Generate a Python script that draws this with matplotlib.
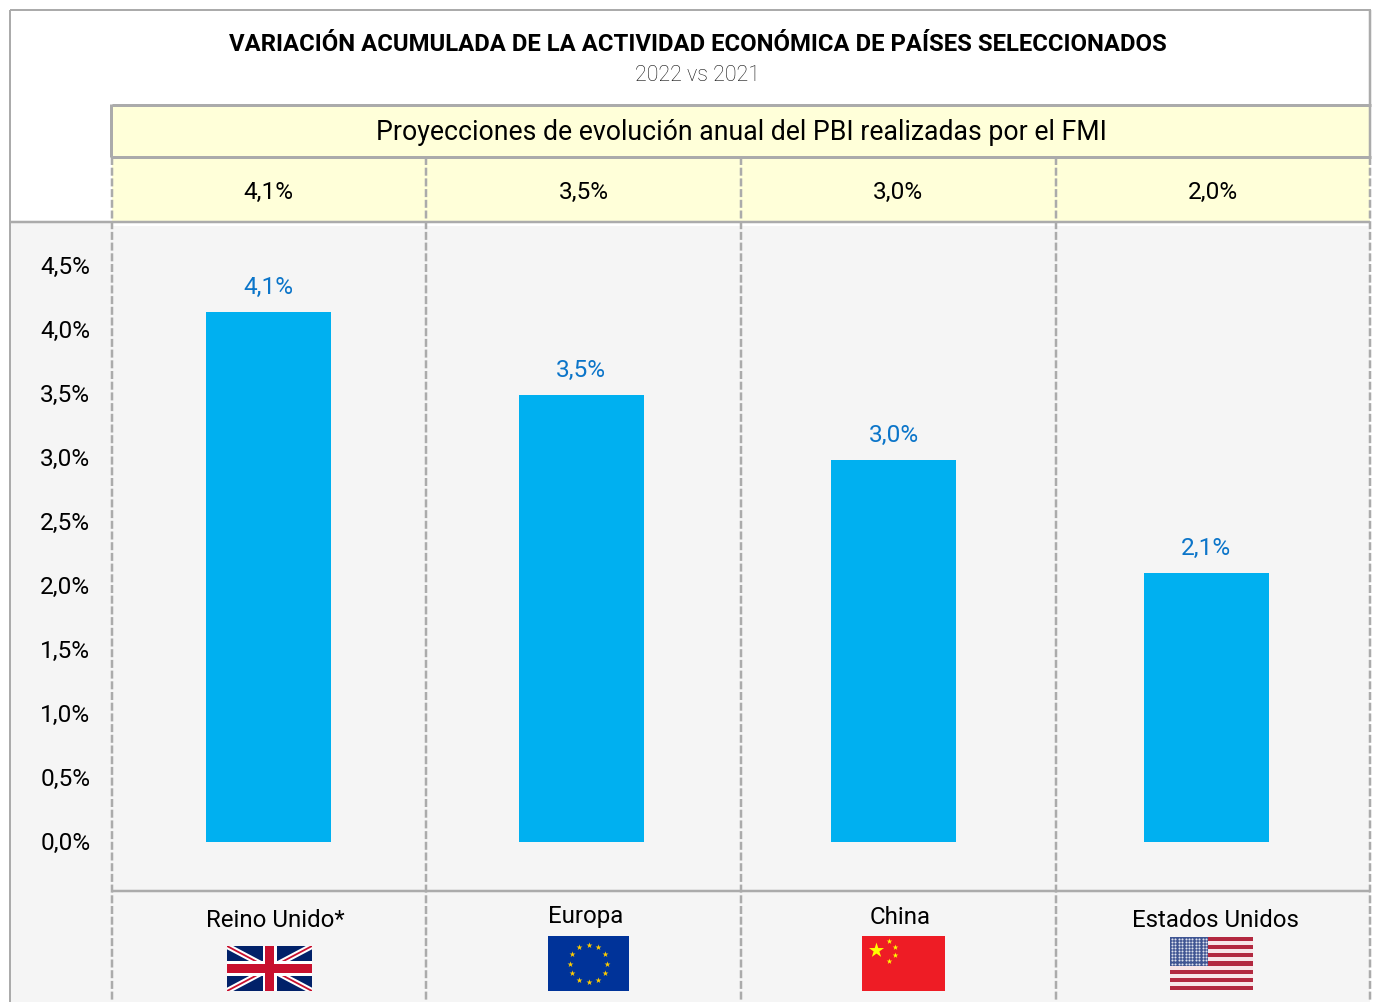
import matplotlib
matplotlib.use("Agg")
import matplotlib.pyplot as plt
from matplotlib.patches import Rectangle
from matplotlib.transforms import ScaledTranslation
import numpy as np

# data
paises = ["Reino Unido*", "Europa", "China", "Estados Unidos"]
variacion = [4.14, 3.49, 2.985, 2.1]
etiquetas = ["4,1%", "3,5%", "3,0%", "2,1%"]
proyecciones = ["4,1%", "3,5%", "3,0%", "2,0%"]
y_ticks = [0, 0.5, 1, 1.5, 2, 2.5, 3, 3.5, 4, 4.5]
y_labels = ["0,0%", "0,5%", "1,0%", "1,5%", "2,0%", "2,5%", "3,0%", "3,5%", "4,0%", "4,5%"]

W, H = 1373, 1002
GRIS = "#ababab"
AMARILLO = "#ffffd9"
FONDO = "#f5f5f5"
CELESTE = "#00b0f0"
AZUL_TXT = "#0b75c9"

plt.rcParams["font.family"] = ["Roboto", "DejaVu Sans"]
fig = plt.figure(figsize=(W / 100, H / 100), dpi=100, facecolor="white")

# capa de fondo en pixeles
bg = fig.add_axes([0, 0, 1, 1])
bg.set_xlim(0, W)
bg.set_ylim(H, 0)
bg.axis("off")

def rect(x0, y0, x1, y1, color, z=1):
    bg.add_patch(Rectangle((x0, y0), x1 - x0, y1 - y0, facecolor=color, edgecolor="none", zorder=z))

def linea(xs, ys, lw=2, ls="-", z=3):
    px = lw * 0.72
    if ls == "-":
        bg.plot(xs, ys, color=GRIS, lw=px, zorder=z, solid_capstyle="butt")
    else:
        bg.plot(xs, ys, color=GRIS, lw=px, zorder=z, linestyle=(0, (3.2, 1.08)), dash_capstyle="butt")

rect(10, 222, 1370, H, FONDO)
rect(112, 222, 1370, 226, "white", 1.5)
rect(112, 105, 1370, 221, AMARILLO, 2)

# marco
linea([10, 10], [10, H], 2)
linea([10, 1371], [10, 10], 2)
linea([1370, 1370], [10, 157], 2.5)
linea([10, 1370], [221.5, 221.5], 2.5)
linea([112, 1371], [105, 105], 3)
linea([111, 111], [104, 157], 3)
linea([112, 1371], [156.5, 156.5], 3)
linea([112, 1370], [891, 891], 2.5)
for x in [112, 426, 741, 1056, 1370]:
    linea([x, x], [157, H], 2.5, "--")

# textos de encabezado
bg.text(698, 44, "VARIACIÓN ACUMULADA DE LA ACTIVIDAD ECONÓMICA DE PAÍSES SELECCIONADOS",
        ha="center", va="center", fontsize=17.2, fontweight="bold", color="black", zorder=5)
bg.text(698, 75, "2022 vs 2021", ha="center", va="center", fontsize=15.5, color="#111111",
        fontweight="light", zorder=5)
bg.text(741, 132, "Proyecciones de evolución anual del PBI realizadas por el FMI",
        ha="center", va="center", fontsize=19.2, color="black", zorder=5)
for x, t in zip([268.5, 584, 898, 1213], proyecciones):
    bg.text(x, 192, t, ha="center", va="center", fontsize=17.6, color="black", zorder=5)
for x, y, t in zip([275, 586, 900.5, 1215], [920.5, 916.5, 917.5, 920.5], paises):
    bg.text(x, y, t, ha="center", va="center", fontsize=17.3, color="black", zorder=5)

# banderas
def bandera_uk(x0, y0, x1, y1):
    rect(x0, y0, x1, y1, "#012169", 4)
    for a, b in [((x0, y0), (x1, y1)), ((x0, y1), (x1, y0))]:
        bg.plot([a[0], b[0]], [a[1], b[1]], color="white", lw=4.2, zorder=4.1, solid_capstyle="butt")
        bg.plot([a[0], b[0]], [a[1], b[1]], color="#c8102e", lw=1.3, zorder=4.2, solid_capstyle="butt")
    xc, yc = (x0 + x1) / 2, (y0 + y1) / 2
    rect(xc - 7, y0, xc + 7, y1, "white", 4.3)
    rect(x0, yc - 7.5, x1, yc + 7.5, "white", 4.3)
    rect(xc - 4.5, y0, xc + 4.5, y1, "#c8102e", 4.4)
    rect(x0, yc - 4.8, x1, yc + 4.8, "#c8102e", 4.4)
    # recorta las diagonales que sobresalen
    rect(x0 - 6, y0 - 6, x0, y1 + 6, FONDO, 4.5)
    rect(x1, y0 - 6, x1 + 6, y1 + 6, FONDO, 4.5)
    rect(x0 - 6, y0 - 6, x1 + 6, y0, FONDO, 4.5)
    rect(x0 - 6, y1, x1 + 6, y1 + 6, FONDO, 4.5)

def bandera_eu(x0, y0, x1, y1):
    rect(x0, y0, x1, y1, "#003399", 4)
    xc, yc = (x0 + x1) / 2, (y0 + y1) / 2
    ang = np.arange(12) * np.pi / 6
    bg.scatter(xc + 18.5 * np.cos(ang), yc + 18.5 * np.sin(ang), marker="*", s=20,
               color="#ffcc00", linewidths=0, zorder=5)

def bandera_china(x0, y0, x1, y1):
    rect(x0, y0, x1, y1, "#ee1c25", 4)
    bg.scatter([x0 + 14], [y0 + 13.7], marker="*", s=130, color="#ffff00", linewidths=0, zorder=5)
    bg.scatter([x0 + 27, x0 + 33, x0 + 33, x0 + 27], [y0 + 5.3, y0 + 11, y0 + 19.3, y0 + 24.7],
               marker="*", s=18, color="#ffff00", linewidths=0, zorder=5)

def bandera_usa(x0, y0, x1, y1):
    rect(x0, y0, x1, y1, "#f7e6e8", 4)
    h = (y1 - y0) / 13
    for i in range(0, 13, 2):
        rect(x0, y0 + i * h, x1, y0 + (i + 1) * h, "#b2283f", 4.1)
    rect(x0, y0, x0 + 38, y0 + 7 * h, "#3f5592", 4.2)
    xs, ys = np.meshgrid(np.linspace(x0 + 2, x0 + 36, 11), np.linspace(y0 + 2, y0 + 7 * h - 2, 9))
    bg.scatter(xs.ravel(), ys.ravel(), s=2.2, color="#dfe3ee", linewidths=0, zorder=4.3)

bandera_uk(227, 946, 312, 991)
bandera_eu(548, 936, 629, 991)
bandera_china(862, 936, 945, 991)
bandera_usa(1170, 937, 1253, 990)

# grafico de barras: y=0 en 841.5 px, y=4.5 en 266 px
ax = fig.add_axes([112.5 / W, 1 - 841.5 / H, 1250 / W, 575.5 / H], facecolor="none")
x = np.arange(len(paises))
barras = ax.bar(x, variacion, width=0.4, color=CELESTE, zorder=3)
ax.set_xlim(-0.5, 3.5)
ax.set_ylim(0, 4.5)
ax.set_xticks([])
ax.set_yticks(y_ticks)
ax.set_yticklabels(y_labels, fontsize=17.6, color="black")
ax.tick_params(axis="y", length=0, pad=16)
# las etiquetas del eje quedan 1 px mas arriba
subir = ScaledTranslation(0, 1 / 100, fig.dpi_scale_trans)
for lab in ax.get_yticklabels():
    lab.set_transform(lab.get_transform() + subir)
for s in ax.spines.values():
    s.set_visible(False)
for b, t in zip(barras, etiquetas):
    ax.annotate(t, (b.get_x() + b.get_width() / 2, b.get_height()), xytext=(0, 24.5 * 0.72),
                textcoords="offset points", ha="center", va="center", fontsize=17.6, color=AZUL_TXT)

fig.savefig("out.png", dpi=100)
